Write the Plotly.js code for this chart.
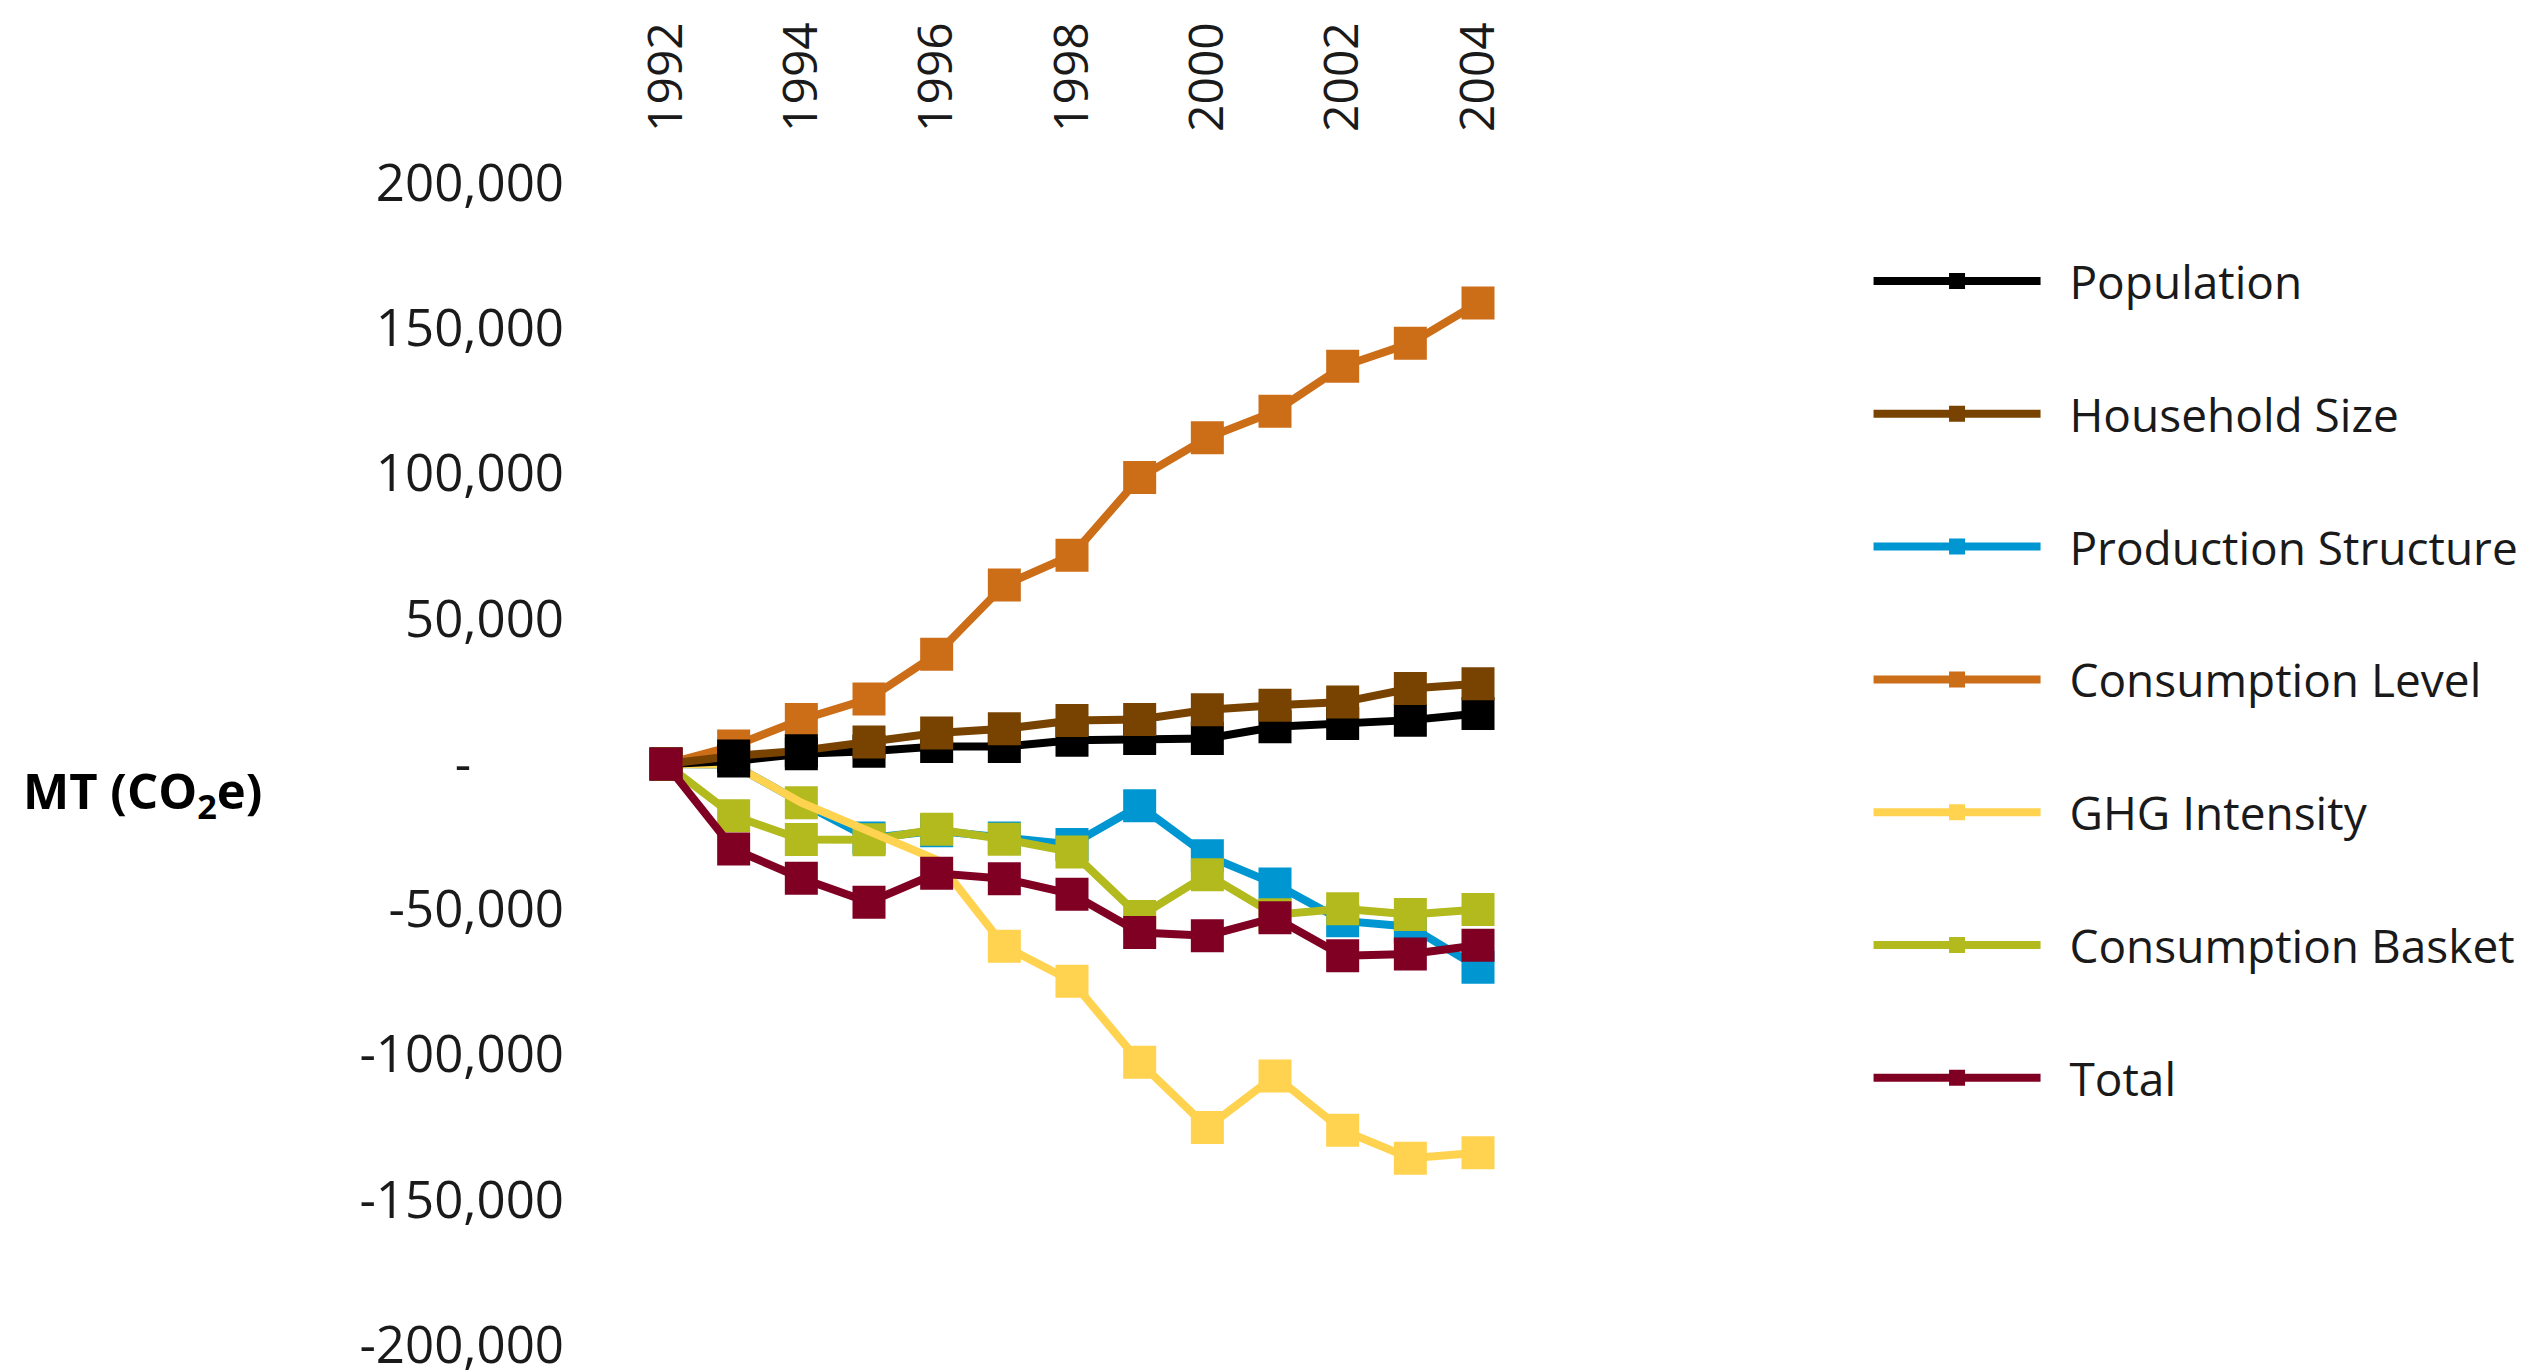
<!DOCTYPE html>
<html>
<head>
<meta charset="utf-8">
<script src="https://cdn.plot.ly/plotly-3.0.1.min.js"></script>
<style>
  html, body { margin: 0; padding: 0; background: #ffffff; }
  #chart { width: 2539px; height: 1372px; }
</style>
</head>
<body>
<div id="chart"></div>
<script>
// ---- data ----
const years = [1992, 1993, 1994, 1995, 1996, 1997, 1998, 1999, 2000, 2001, 2002, 2003, 2004];
const population          = [0, 1000, 3500, 4400, 6000, 6000, 8200, 8800, 8800, 12800, 13900, 15100, 17400];
const householdSize       = [0, 2750, 4600, 7600, 10700, 12100, 15000, 15300, 18700, 20200, 21300, 26000, 27600];
const productionStructure = [0, -300, -13300, -25500, -23000, -25500, -27700, -14400, -31600, -41300, -54000, -56000, -70000];
const consumptionLevel    = [0, 6200, 15300, 22400, 37800, 61600, 71900, 98600, 112300, 121400, 136900, 144800, 158700];
const ghgIntensity        = [0, -300, -13300, -23300, -33000, -62700, -74800, -102700, -125100, -107400, -126100, -135700, -133800];
const consumptionBasket   = [0, -17800, -26000, -26100, -22500, -25900, -30300, -52500, -38100, -51900, -49800, -51800, -50100];
const total               = [0, -29300, -39300, -47600, -37600, -39500, -44800, -58000, -59100, -52900, -66000, -65400, -62400];

const seriesNames = ["Population", "Household Size", "Production Structure", "Consumption Level",
                     "GHG Intensity", "Consumption Basket", "Total"];

const xTickVals = [1992, 1994, 1996, 1998, 2000, 2002, 2004];
const yTickVals = [200000, 150000, 100000, 50000, 0, -50000, -100000, -150000, -200000];
const yTickText = ["200,000", "150,000", "100,000", "50,000", "-\u00A0\u00A0\u00A0\u00A0\u00A0\u00A0\u00A0",
                   "-50,000", "-100,000", "-150,000", "-200,000"];

// ---- styles ----
const C = {
  pop: "#000000",
  hh: "#784300",
  ps: "#0096D2",
  cl: "#CC6D18",
  ghg: "#FFD24F",
  cb: "#B2BA1E",
  tot: "#800024"
};
const HIDE = "rgba(0,0,0,0)";
const FONT = "Open Sans, Noto Sans, sans-serif";
const MS = 33, LW = 8;

function pointColors(base, overrides) {
  return years.map((y, i) => (overrides[i] !== undefined ? overrides[i] : base));
}

function trace(name, y, color, rank, markerColors) {
  return {
    type: "scatter", mode: "lines+markers",
    name: "\u00A0\u00A0" + name, x: years, y: y,
    legendrank: rank, legendgroup: "g" + rank,
    line: { color: color, width: LW },
    marker: { symbol: "square", size: MS, color: markerColors || color, line: { width: 0 } },
    hoverinfo: "x+y+name"
  };
}

// drawing order (later = on top), legend order via legendrank
const data = [
  trace(seriesNames[3], consumptionLevel, C.cl, 4),
  trace(seriesNames[2], productionStructure, C.ps, 3, pointColors(C.ps, {1: HIDE, 2: C.cb})),
  trace(seriesNames[5], consumptionBasket, C.cb, 6),
  trace(seriesNames[4], ghgIntensity, C.ghg, 5, pointColors(C.ghg, {1: HIDE, 2: HIDE, 3: HIDE, 4: HIDE})),
  trace(seriesNames[0], population, C.pop, 1),
  trace(seriesNames[1], householdSize, C.hh, 2, pointColors(C.hh, {1: C.pop, 2: C.pop})),
  trace(seriesNames[6], total, C.tot, 7)
];

const layout = {
  width: 2539, height: 1372,
  paper_bgcolor: "#ffffff", plot_bgcolor: "#ffffff",
  font: { family: FONT, color: "#1a1a1a" },
  margin: { l: 590, r: 1039, t: 182.5, b: 26.5, pad: 0 },
  showlegend: true,
  legend: {
    x: 1.405, y: 0.947, xanchor: "left", yanchor: "top",
    font: { family: FONT, size: 46, color: "#1a1a1a" },
    itemwidth: 167, traceorder: "grouped", tracegroupgap: 70,
    bgcolor: "rgba(0,0,0,0)", borderwidth: 0
  },
  xaxis: {
    side: "top", range: [1990.877, 2004.325],
    tickmode: "array", tickvals: xTickVals, ticktext: xTickVals.map(String),
    tickangle: -90, ticks: "", ticklabelstandoff: 50,
    tickfont: { family: FONT, size: 48, color: "#1a1a1a" },
    showgrid: false, zeroline: false, showline: false
  },
  yaxis: {
    range: [-200000, 200000],
    tickmode: "array", tickvals: yTickVals, ticktext: yTickText,
    ticks: "", ticklabelstandoff: 25, ticklabeloverflow: "allow",
    tickfont: { family: FONT, size: 51, color: "#1a1a1a" },
    showgrid: false, zeroline: false, showline: false
  },
  annotations: [{
    xref: "paper", yref: "paper", x: -0.6253, y: 0.475,
    xanchor: "left", yanchor: "middle", showarrow: false,
    text: "<b>MT (CO<sub>2</sub>e)</b>",
    font: { family: FONT, size: 49, color: "#000000" }
  }]
};

Plotly.newPlot("chart", data, layout, { displayModeBar: false, staticPlot: true });
</script>
</body>
</html>
